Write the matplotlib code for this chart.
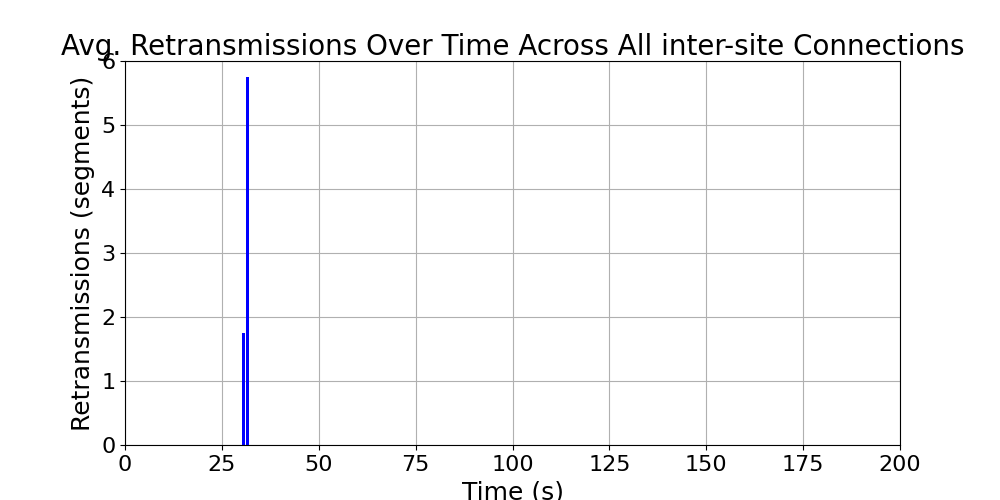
import matplotlib
matplotlib.use('Agg')
from matplotlib import pyplot as plt

# time bins (s) and average retransmissions
times = [30.6, 31.6]
retrans = [1.75, 5.75]

fig, ax = plt.subplots(figsize=(10, 5), dpi=100)
fig.subplots_adjust(left=0.125, right=0.9, top=0.878, bottom=0.11)

ax.bar(times, retrans, width=0.8, color='blue')

ax.set_xlim(0, 200)
ax.set_ylim(0, 6)
ax.grid(True)
ax.set_axisbelow(True)

ax.set_xlabel('Time (s)', fontsize=18)
ax.set_ylabel('Retransmissions (segments)', fontsize=18)
ax.set_title('Avg. Retransmissions Over Time Across All inter-site Connections',
             fontsize=20, pad=4)
ax.tick_params(labelsize=16)

plt.savefig('out.png')
